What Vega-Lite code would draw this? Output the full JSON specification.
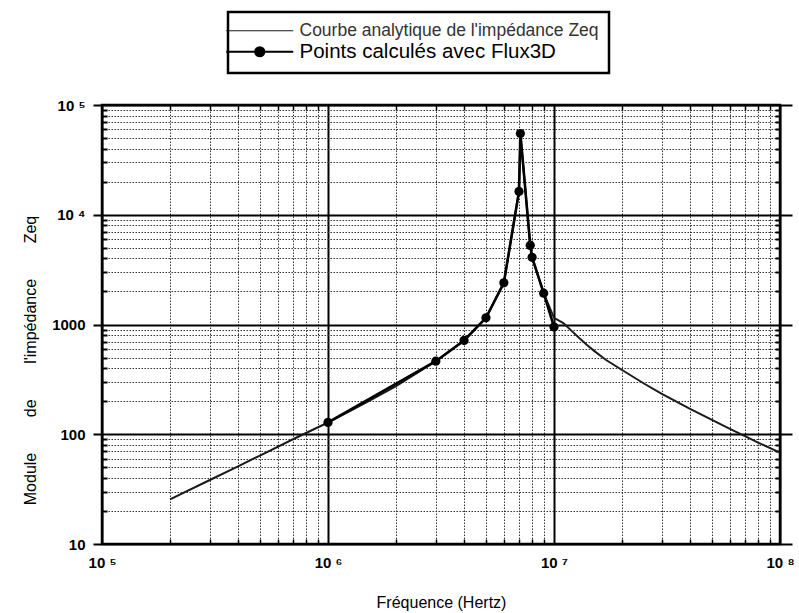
{
  "$schema": "https://vega.github.io/schema/vega-lite/v6.json",
  "width": 678,
  "height": 439,
  "autosize": "none",
  "padding": {"left": 102, "top": 105, "right": 19, "bottom": 69},
  "background": "white",
  "config": {
    "view": {"stroke": "black", "strokeWidth": 2.5},
    "font": "Liberation Sans"
  },
  "datasets": {
    "analytique": [
      {"frequence": 200000, "module": 25.5},
      {"frequence": 300000, "module": 38.3},
      {"frequence": 400000, "module": 51},
      {"frequence": 500000, "module": 64},
      {"frequence": 700000, "module": 90},
      {"frequence": 1000000, "module": 128},
      {"frequence": 1500000, "module": 198},
      {"frequence": 2000000, "module": 275},
      {"frequence": 3000000, "module": 463},
      {"frequence": 4000000, "module": 716},
      {"frequence": 5000000, "module": 1150},
      {"frequence": 6000000, "module": 2400},
      {"frequence": 7000000, "module": 16300},
      {"frequence": 7100000, "module": 55000},
      {"frequence": 7850000, "module": 5260},
      {"frequence": 8000000, "module": 4090},
      {"frequence": 9000000, "module": 1930},
      {"frequence": 10000000, "module": 1150},
      {"frequence": 11000000, "module": 1030},
      {"frequence": 12000000, "module": 870},
      {"frequence": 13000000, "module": 745},
      {"frequence": 14000000, "module": 650},
      {"frequence": 15000000, "module": 578},
      {"frequence": 17000000, "module": 475},
      {"frequence": 20000000, "module": 385},
      {"frequence": 25000000, "module": 290},
      {"frequence": 30000000, "module": 233},
      {"frequence": 40000000, "module": 170},
      {"frequence": 50000000, "module": 135},
      {"frequence": 60000000, "module": 112},
      {"frequence": 70000000, "module": 96},
      {"frequence": 80000000, "module": 84},
      {"frequence": 100000000, "module": 68}
    ],
    "flux3d": [
      {"frequence": 1000000, "module": 128},
      {"frequence": 3000000, "module": 463},
      {"frequence": 4000000, "module": 716},
      {"frequence": 5000000, "module": 1150},
      {"frequence": 6000000, "module": 2400},
      {"frequence": 7000000, "module": 16300},
      {"frequence": 7100000, "module": 55000},
      {"frequence": 7850000, "module": 5260},
      {"frequence": 8000000, "module": 4090},
      {"frequence": 9000000, "module": 1930},
      {"frequence": 10000000, "module": 950}
    ]
  },
  "resolve": {"axis": {"x": "independent", "y": "independent"}},
  "layer": [
    {
      "data": {"name": "analytique"},
      "mark": {"type": "line", "strokeWidth": 2},
      "encoding": {
        "x": {
          "field": "frequence", "type": "quantitative",
          "scale": {"type": "log", "domain": [100000, 100000000]},
          "axis": {
            "values": [100000,200000,300000,400000,500000,600000,700000,800000,900000,1000000,2000000,3000000,4000000,5000000,6000000,7000000,8000000,9000000,10000000,20000000,30000000,40000000,50000000,60000000,70000000,80000000,90000000,100000000],
            "grid": true,
            "gridColor": {"condition": {"test": "abs(log(datum.value)/LN10 - round(log(datum.value)/LN10)) < 0.001", "value": "black"}, "value": "#333333"},
            "gridDash": {"condition": {"test": "abs(log(datum.value)/LN10 - round(log(datum.value)/LN10)) < 0.001", "value": []}, "value": [1.5, 1.5]},
            "gridWidth": {"condition": {"test": "abs(log(datum.value)/LN10 - round(log(datum.value)/LN10)) < 0.001", "value": 2}, "value": 1},
            "gridOpacity": 1,
            "domain": false,
            "ticks": true,
            "tickColor": "black",
            "tickWidth": 1.5,
            "tickSize": {"condition": {"test": "abs(log(datum.value)/LN10 - round(log(datum.value)/LN10)) < 0.001", "value": 0}, "value": -5},
            "labelExpr": "abs(datum.value-100000)<1 ? '10 ⁵' : abs(datum.value-1000000)<1 ? '10 ⁶' : abs(datum.value-10000000)<1 ? '10 ⁷' : abs(datum.value-100000000)<1 ? '10 ⁸' : ''",
            "labelOverlap": false,
            "labelFlush": false,
            "labelFont": "Liberation Sans",
            "labelFontSize": 15,
            "labelFontWeight": "bold",
            "labelColor": "black",
            "labelPadding": 11,
            "title": "Fréquence (Hertz)",
            "titleFont": "Liberation Sans",
            "titleFontSize": 16,
            "titleFontWeight": "normal",
            "titleColor": "black",
            "titleY": 58,
            "titleBaseline": "middle"
          }
        },
        "y": {
          "field": "module", "type": "quantitative",
          "scale": {"type": "log", "domain": [10, 100000]},
          "axis": {
            "values": [10,20,30,40,50,60,70,80,90,100,200,300,400,500,600,700,800,900,1000,2000,3000,4000,5000,6000,7000,8000,9000,10000,20000,30000,40000,50000,60000,70000,80000,90000,100000],
            "grid": true,
            "gridColor": {"condition": {"test": "abs(log(datum.value)/LN10 - round(log(datum.value)/LN10)) < 0.001", "value": "black"}, "value": "#333333"},
            "gridDash": {"condition": {"test": "abs(log(datum.value)/LN10 - round(log(datum.value)/LN10)) < 0.001", "value": []}, "value": [1.5, 1.5]},
            "gridWidth": {"condition": {"test": "abs(log(datum.value)/LN10 - round(log(datum.value)/LN10)) < 0.001", "value": 2}, "value": 1},
            "gridOpacity": 1,
            "domain": false,
            "ticks": true,
            "tickColor": "black",
            "tickWidth": 2,
            "tickSize": {"condition": {"test": "abs(log(datum.value)/LN10 - round(log(datum.value)/LN10)) < 0.001", "value": 9}, "value": -5},
            "labelExpr": "abs(datum.value-10)<0.01 ? '10' : abs(datum.value-100)<0.01 ? '100' : abs(datum.value-1000)<0.01 ? '1000' : abs(datum.value-10000)<0.01 ? '10 ⁴' : abs(datum.value-100000)<0.01 ? '10 ⁵' : ''",
            "labelOverlap": false,
            "labelFlush": false,
            "labelFont": "Liberation Sans",
            "labelFontSize": 15,
            "labelFontWeight": "bold",
            "labelColor": "black",
            "labelPadding": 8,
            "title": "Module\u00a0\u00a0\u00a0\u00a0\u00a0\u00a0\u00a0\u00a0de\u00a0\u00a0\u00a0\u00a0\u00a0\u00a0\u00a0\u00a0l'impédance\u00a0\u00a0\u00a0\u00a0\u00a0\u00a0\u00a0\u00a0Zeq",
            "titleFont": "Liberation Sans",
            "titleFontSize": 16,
            "titleFontWeight": "normal",
            "titleColor": "black",
            "titleX": -72,
            "titleY": 255,
            "titleAngle": -90,
            "titleAlign": "center",
            "titleBaseline": "middle"
          }
        },
        "color": {
          "datum": "Courbe analytique de l'impédance Zeq",
          "scale": {"domain": ["Courbe analytique de l'impédance Zeq", "Points calculés avec Flux3D"], "range": ["#1a1a1a", "#000000"]},
          "legend": {
            "title": null,
            "orient": "none",
            "legendX": 126,
            "legendY": -93,
            "padding": 10,
            "strokeColor": "black",
            "fillColor": "white",
            "symbolSize": 400,
            "symbolOffset": 13,
            "labelOffset": 31,
            "labelFont": "Liberation Sans",
            "labelFontSize": 19,
            "labelColor": "black",
            "labelLimit": 600,
            "rowPadding": 1,
            "encode": {
              "legend": {"update": {"strokeWidth": {"value": 2.5}}},
              "labels": {"update": {
                "fontSize": {"signal": "datum.label == 'Points calculés avec Flux3D' ? 20.5 : 17.5"},
                "fontWeight": {"value": "normal"},
                "fill": {"signal": "datum.label == 'Points calculés avec Flux3D' ? '#000000' : '#333333'"}
              }},
              "symbols": {"update": {
                "shape": {"signal": "datum.label == 'Points calculés avec Flux3D' ? 'M-3.35,0H3.35M0.45,0A0.45,0.45,0,1,1,-0.45,0A0.45,0.45,0,1,1,0.45,0Z' : 'M-3.35,0H3.35'"},
                "fill": {"signal": "datum.label == 'Points calculés avec Flux3D' ? 'black' : 'transparent'"},
                "stroke": {"value": "black"},
                "strokeWidth": {"signal": "datum.label == 'Points calculés avec Flux3D' ? 2.2 : 1.2"},
                "opacity": {"value": 1}
              }}
            }
          }
        }
      }
    },
    {
      "data": {"name": "flux3d"},
      "mark": {"type": "line", "strokeWidth": 2.6},
      "encoding": {
        "x": {
          "field": "frequence", "type": "quantitative",
          "axis": {
            "orient": "top",
            "values": [200000,300000,400000,500000,600000,700000,800000,900000,2000000,3000000,4000000,5000000,6000000,7000000,8000000,9000000,20000000,30000000,40000000,50000000,60000000,70000000,80000000,90000000],
            "grid": false,
            "domain": false,
            "labels": false,
            "tickColor": "black",
            "tickWidth": 1.5,
            "tickSize": -5,
            "title": null
          }
        },
        "y": {
          "field": "module", "type": "quantitative",
          "axis": {
            "orient": "right",
            "values": [10,20,30,40,50,60,70,80,90,100,200,300,400,500,600,700,800,900,1000,2000,3000,4000,5000,6000,7000,8000,9000,10000,20000,30000,40000,50000,60000,70000,80000,90000,100000],
            "grid": false,
            "domain": false,
            "labels": false,
            "tickColor": "black",
            "tickWidth": 2,
            "tickSize": {"condition": {"test": "abs(log(datum.value)/LN10 - round(log(datum.value)/LN10)) < 0.001", "value": 12}, "value": -5},
            "title": null
          }
        },
        "color": {"datum": "Points calculés avec Flux3D"}
      }
    },
    {
      "data": {"name": "flux3d"},
      "mark": {"type": "circle", "size": 85, "color": "black", "opacity": 1},
      "encoding": {
        "x": {"field": "frequence", "type": "quantitative", "axis": null},
        "y": {"field": "module", "type": "quantitative", "axis": null}
      }
    }
  ]
}
